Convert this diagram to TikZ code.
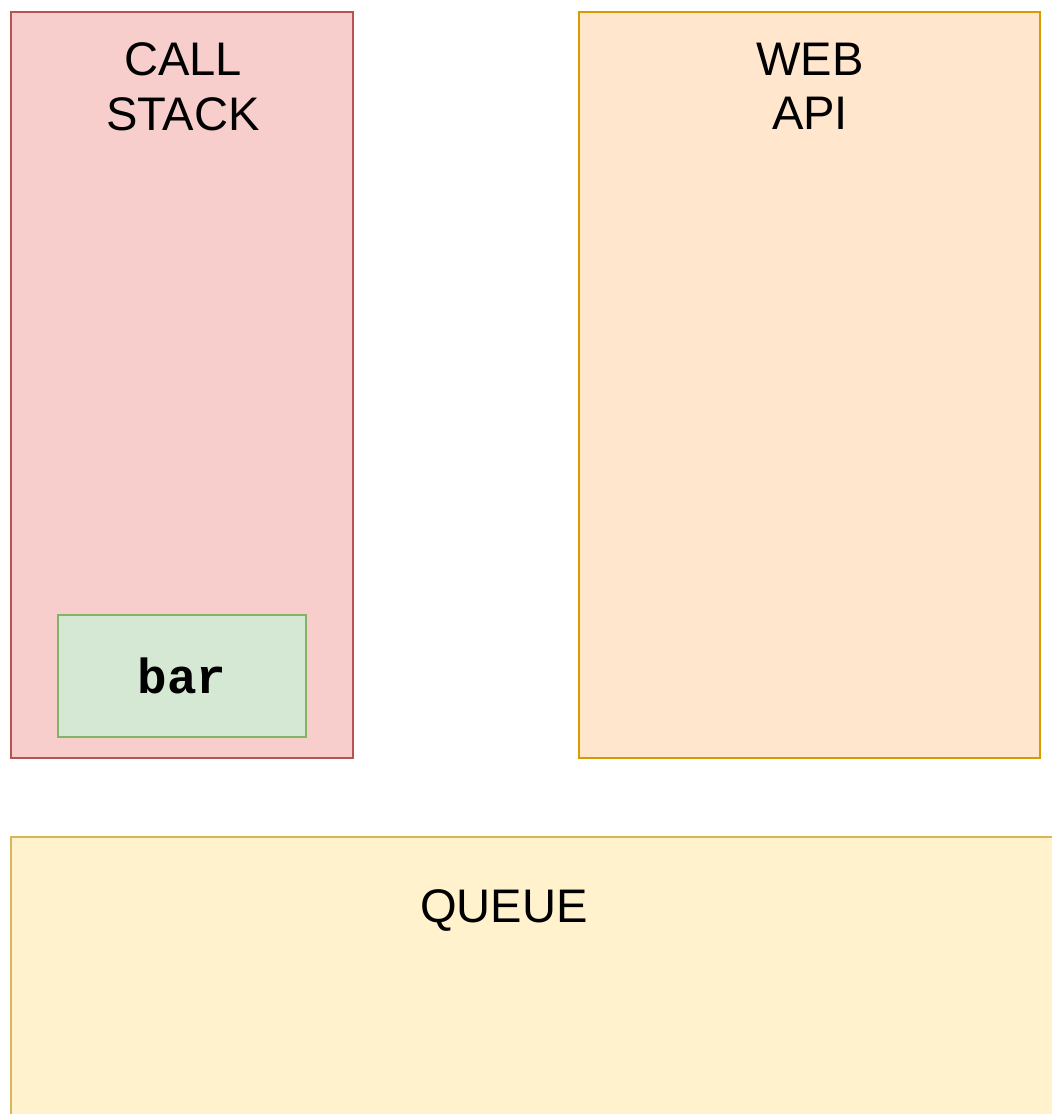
\documentclass[tikz,border=0pt]{standalone}
\usepackage{fontspec}
\setmainfont{Liberation Sans}
\setmonofont{Liberation Mono}
\definecolor{stackfill}{HTML}{F8CECC}
\definecolor{stackline}{HTML}{B85450}
\definecolor{apifill}{HTML}{FFE6CC}
\definecolor{apiline}{HTML}{D79B00}
\definecolor{queuefill}{HTML}{FFF2CC}
\definecolor{queueline}{HTML}{D6B656}
\definecolor{framefill}{HTML}{D5E8D4}
\definecolor{frameline}{HTML}{82B366}
\usetikzlibrary{positioning}
\tikzset{%
  area/.style={draw, rectangle, line width=0.65pt, inner sep=0pt},% big region
  stackarea/.style={area, fill=stackfill, draw=stackline},% call stack
  apiarea/.style={area, fill=apifill, draw=apiline},% web api
  queuearea/.style={area, fill=queuefill, draw=queueline},% task queue
  frame/.style={area, fill=framefill, draw=frameline,
    font=\ttfamily\bfseries\fontsize{14}{16}\selectfont},% stack frame
  title/.style={anchor=north, inner sep=0pt, align=center,
    font=\fontsize{13.4}{15.6}\selectfont}% region heading
}
\begin{document}
\begin{tikzpicture}[x=0.01cm, y=-0.01cm]
\useasboundingbox (0,0) rectangle (1052,1114);
\clip (0,0) rectangle (1052,1114);
\node[stackarea, minimum width=3.42cm, minimum height=7.46cm] (stack) at (182,385) {};
\node[apiarea, minimum width=4.61cm, minimum height=7.46cm] (webapi) at (809.5,385) {};
\node[queuearea, minimum width=10.6cm, minimum height=3.2cm] (queue) at (541,997) {};
\node[frame, minimum width=2.48cm, minimum height=1.22cm] (bar) at (182,676) {bar};
\node[title] (stacktitle) at (183,42) {CALL\\STACK};
\node[title] (apititle) at (810,42) {WEB\\API};
\node[title] (queuetitle) at (504,889) {QUEUE};
\end{tikzpicture}
\end{document}
